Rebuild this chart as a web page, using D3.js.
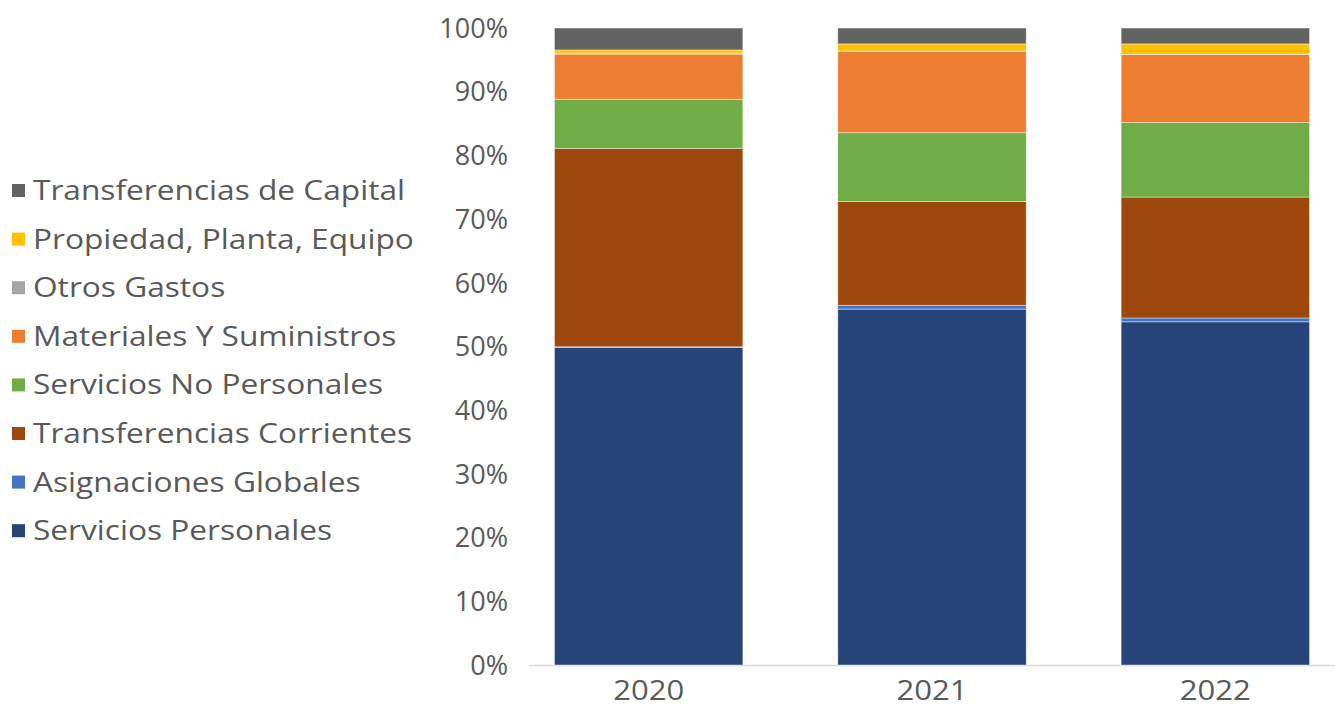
<!DOCTYPE html>
<html><head><meta charset="utf-8">
<script src="https://cdn.jsdelivr.net/npm/d3@7"></script>
<style>body{margin:0;background:#fff}svg{display:block}text{font-family:"Open Sans",sans-serif;fill:#595959}</style>
</head><body><svg id="c" width="1337" height="707"></svg>
<script>
const years = ["2020","2021","2022"];
const seriesNames = ["Servicios Personales","Asignaciones Globales","Transferencias Corrientes","Servicios No Personales","Materiales Y Suministros","Otros Gastos","Propiedad, Planta, Equipo","Transferencias de Capital"];
const seriesColors = ["#264478","#4472c4","#9e480e","#70ad47","#ed7d31","#a5a5a5","#ffc000","#636363"];
const servPersonales = [49.9, 55.9, 53.9];
const asigGlobales = [0.1, 0.6, 0.6];
const transfCorrientes = [31.2, 16.3, 19.0];
const servNoPersonales = [7.7, 10.8, 11.7];
const materiales = [7.1, 12.8, 10.7];
const otrosGastos = [0.15, 0.05, 0.05];
const propiedad = [0.5, 1.1, 1.6];
const transfCapital = [3.45, 2.5, 2.5];
const yTicks = [0,10,20,30,40,50,60,70,80,90,100];

const allSeries = [servPersonales, asigGlobales, transfCorrientes, servNoPersonales, materiales, otrosGastos, propiedad, transfCapital];
const rows = years.map((yr,i)=>{ const o={year:yr}; seriesNames.forEach((n,j)=>o[n]=allSeries[j][i]); return o; });
rows.forEach(r=>{ const s=d3.sum(seriesNames,n=>r[n]); seriesNames.forEach(n=>r[n]=r[n]/s*100); });
const stack = d3.stack().keys(seriesNames)(rows);

const svg = d3.select("#c");
const x = d3.scaleBand().domain(years).range([507,1357]).paddingInner(0.335).paddingOuter(0.1675);
const y = d3.scaleLinear().domain([0,100]).range([665,28]);

svg.append("line").attr("x1",529).attr("x2",1335).attr("y1",665.5).attr("y2",665.5).attr("stroke","#d9d9d9").attr("stroke-width",1.5);

svg.append("g").selectAll("g").data(stack).join("g").attr("fill",(d,i)=>seriesColors[i])
  .selectAll("rect").data(d=>d).join("rect")
  .attr("x",d=>x(d.data.year)).attr("width",x.bandwidth())
  .attr("y",d=>y(d[1])).attr("height",d=>Math.max(0,y(d[0])-y(d[1])))
  .attr("stroke","#fff").attr("stroke-width",0.7).attr("stroke-opacity",0.6);

function stretch(sel, f){
  sel.each(function(){ const L=this.getComputedTextLength(); d3.select(this).attr("textLength",L*f).attr("lengthAdjust","spacingAndGlyphs"); });
}

svg.append("g").selectAll("text").data(yTicks).join("text")
  .attr("x",508).attr("y",d=>y(d)).attr("dy","0.36em").attr("text-anchor","end")
  .attr("font-size",27).text(d=>d+"%");

svg.append("g").selectAll("text").data(years).join("text")
  .attr("x",d=>x(d)+x.bandwidth()/2).attr("y",690).attr("dy","0.36em").attr("text-anchor","middle")
  .attr("font-size",27).text(d=>d).call(stretch,1.15);

const leg = svg.append("g").selectAll("g").data(seriesNames.slice().reverse()).join("g")
  .attr("transform",(d,i)=>`translate(0,${190+i*48.6})`);
leg.append("rect").attr("x",12).attr("y",-6).attr("width",13).attr("height",13)
  .attr("fill",d=>seriesColors[seriesNames.indexOf(d)]);
leg.append("text").attr("x",33).attr("y",0).attr("dy","0.36em").attr("font-size",28).text(d=>d).call(stretch,1.13);
</script></body></html>
